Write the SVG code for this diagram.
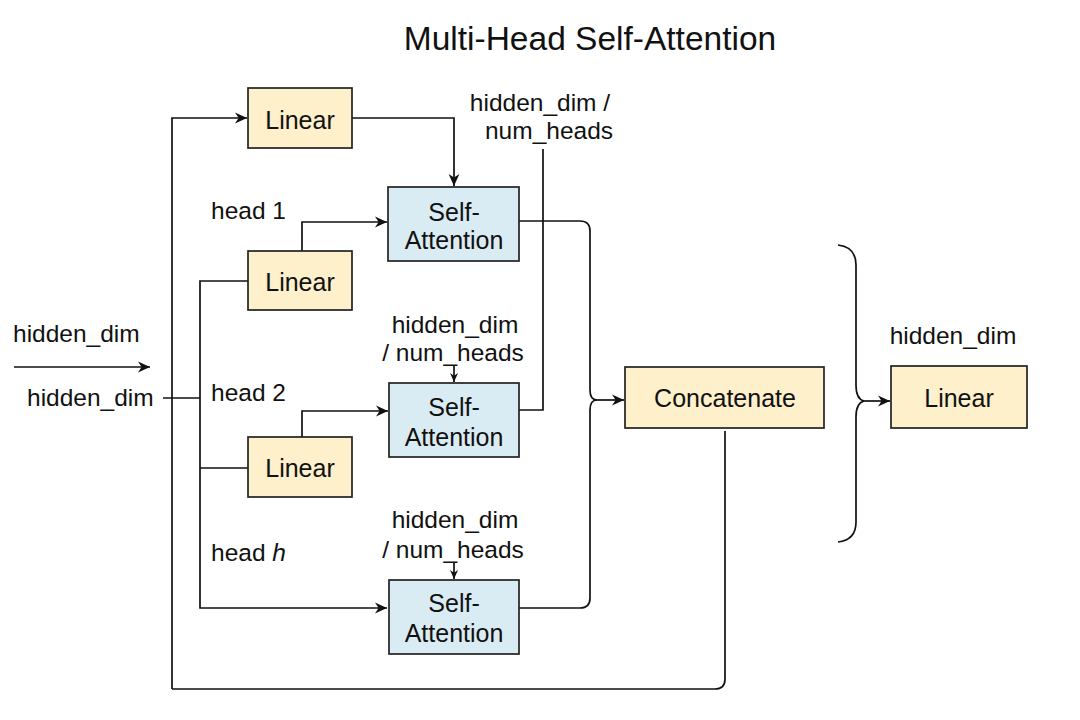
<svg xmlns="http://www.w3.org/2000/svg" width="1080" height="720" viewBox="0 0 1080 720">
<defs>
<marker id="ah" viewBox="0 0 10 10" refX="10" refY="5" markerWidth="12" markerHeight="12" markerUnits="userSpaceOnUse" orient="auto">
<path d="M0,0.5 L10,5 L0,9.5 L3,5 Z" fill="#111"/>
</marker>
<marker id="ahs" viewBox="0 0 10 10" refX="10" refY="5" markerWidth="9" markerHeight="9" markerUnits="userSpaceOnUse" orient="auto">
<path d="M0,0.5 L10,5 L0,9.5 L3,5 Z" fill="#111"/>
</marker>
</defs>
<style>
text{font-family:"Liberation Sans",Arial,sans-serif;fill:#111;}
.t{font-size:25px;text-anchor:middle;}
.l{font-size:24.5px;}
.lc{font-size:24.5px;text-anchor:middle;}
.lin{fill:#fdf0cb;stroke:#222;stroke-width:1.7;}
.sa{fill:#daecf3;stroke:#222;stroke-width:1.7;}
.c{fill:none;stroke:#111;stroke-width:1.7;}
</style>
<rect width="1080" height="720" fill="#fff"/>
<text x="590" y="50" style="font-size:33.5px;text-anchor:middle">Multi-Head Self-Attention</text>

<g id="connectors">
<path class="c" d="M172,689 V118 H247" marker-end="url(#ah)"/>
<path class="c" d="M352,118 H454 V186" marker-end="url(#ah)"/>
<path class="c" d="M248,281 H200 V608 H387" marker-end="url(#ah)"/>
<path class="c" d="M248,468 H200"/>
<path class="c" d="M163,398 H200"/>
<path class="c" d="M14,367 H150" marker-end="url(#ah)"/>
<path class="c" d="M302,251 V222 H387" marker-end="url(#ah)"/>
<path class="c" d="M302,437 V411 H388" marker-end="url(#ah)"/>
<path class="c" d="M519,410 H543 V149"/>
<path class="c" d="M454,366 V382" marker-end="url(#ahs)"/>
<path class="c" d="M454,563 V579" marker-end="url(#ahs)"/>
<path class="c" d="M519,221 H580 Q590,221 590,231 V390 Q590,400 597,400"/>
<path class="c" d="M519,608 H580 Q590,608 590,598 V410 Q590,400 597,400"/>
<path class="c" d="M597,400 H624" marker-end="url(#ah)"/>
<path class="c" d="M725,431 V679 Q725,689 715,689 H172"/>
<path class="c" d="M838,245 Q856,247 856,265 V385 Q856,399 864,401 Q856,403 856,417 V522 Q856,540 838,542"/>
<path class="c" d="M864,401 H890" marker-end="url(#ah)"/>
</g>

<g id="linear-top">
<rect class="lin" x="248" y="88" width="104" height="60"/>
<text class="t" x="300" y="129">Linear</text>
</g>
<g id="linear-head1">
<rect class="lin" x="248" y="251" width="104" height="59"/>
<text class="t" x="300" y="291">Linear</text>
</g>
<g id="linear-head2">
<rect class="lin" x="248" y="437" width="104" height="60"/>
<text class="t" x="300" y="477">Linear</text>
</g>
<g id="sa1">
<rect class="sa" x="388" y="187" width="131" height="74"/>
<text class="t" x="454" y="221">Self-</text>
<text class="t" x="454" y="249">Attention</text>
</g>
<g id="sa2">
<rect class="sa" x="389" y="383" width="130" height="74"/>
<text class="t" x="454" y="416">Self-</text>
<text class="t" x="454" y="446">Attention</text>
</g>
<g id="sa3">
<rect class="sa" x="389" y="580" width="130" height="74"/>
<text class="t" x="454" y="612">Self-</text>
<text class="t" x="454" y="642">Attention</text>
</g>
<g id="concatenate">
<rect class="lin" x="625" y="367" width="199" height="61"/>
<text class="t" x="725" y="407">Concatenate</text>
</g>
<g id="linear-out">
<rect class="lin" x="891" y="366" width="136" height="62"/>
<text class="t" x="959" y="407">Linear</text>
</g>

<g id="labels">
<text class="l" x="13" y="342">hidden_dim</text>
<text class="l" x="27" y="406">hidden_dim</text>
<text class="l" x="211" y="219">head 1</text>
<text class="l" x="211" y="401">head 2</text>
<text class="l" x="211" y="561">head <tspan font-style="italic">h</tspan></text>
<text class="lc" x="540" y="111">hidden_dim /</text>
<text class="lc" x="549" y="139">num_heads</text>
<text class="lc" x="455" y="333">hidden_dim</text>
<text class="lc" x="453" y="361">/ num_heads</text>
<text class="lc" x="455" y="528">hidden_dim</text>
<text class="lc" x="453" y="558">/ num_heads</text>
<text class="lc" x="953" y="344">hidden_dim</text>
</g>
</svg>
